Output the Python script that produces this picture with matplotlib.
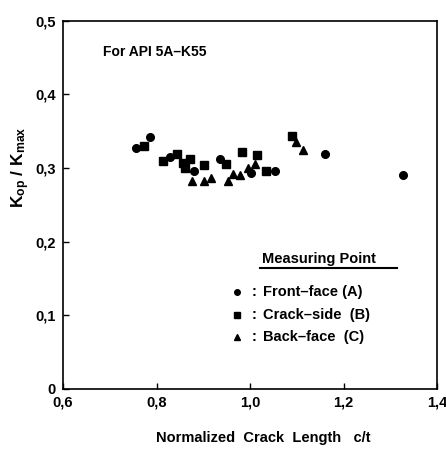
import matplotlib
matplotlib.use("Agg")
import matplotlib.pyplot as plt
from matplotlib.ticker import FixedLocator

plt.rcParams['font.family'] = ['Liberation Sans', 'DejaVu Sans']
plt.rcParams['font.weight'] = 'bold'
plt.rcParams['mathtext.fontset'] = 'custom'
plt.rcParams['mathtext.rm'] = 'Liberation Sans:bold'
plt.rcParams['mathtext.it'] = 'Liberation Sans:bold'

# Data
front_x = [0.756, 0.786, 0.829, 0.880, 0.935, 1.002, 1.053, 1.160, 1.328]
front_y = [0.327, 0.342, 0.315, 0.296, 0.312, 0.293, 0.296, 0.319, 0.290]
crack_x = [0.773, 0.813, 0.844, 0.856, 0.872, 0.861, 0.902, 0.948, 0.982, 1.016, 1.035, 1.090]
crack_y = [0.330, 0.309, 0.319, 0.307, 0.312, 0.300, 0.304, 0.306, 0.322, 0.318, 0.296, 0.344]
back_x = [0.877, 0.902, 0.917, 0.954, 0.964, 0.979, 0.995, 1.011, 1.098, 1.113]
back_y = [0.283, 0.282, 0.286, 0.282, 0.292, 0.291, 0.300, 0.306, 0.336, 0.325]

x_ticks = [0.6, 0.8, 1.0, 1.2, 1.4]
x_labels = ["0,6", "0,8", "1,0", "1,2", "1,4"]
y_ticks = [0, 0.1, 0.2, 0.3, 0.4, 0.5]
y_labels = ["0", "0,1", "0,2", "0,3", "0,4", "0,5"]

legend_labels = ["Front\u2013face (A)", "Crack\u2013side  (B)", "Back\u2013face  (C)"]

fig = plt.figure(figsize=(4.46, 4.53), dpi=100)
ax = fig.add_axes([63/446, 64/453, 374/446, 368.3/453])

ax.plot(front_x, front_y, 'o', color='black', ms=5.5, mec='black')
ax.plot(crack_x, crack_y, 's', color='black', ms=5.2, mec='black')
ax.plot(back_x, back_y, '^', color='black', ms=5.5, mec='black')

ax.set_xlim(0.6, 1.4)
ax.set_ylim(0, 0.5)
ax.xaxis.set_major_locator(FixedLocator(x_ticks))
ax.yaxis.set_major_locator(FixedLocator(y_ticks))
ax.set_xticklabels(x_labels, fontsize=10.5, fontweight='bold')
ax.set_yticklabels(y_labels, fontsize=10.5, fontweight='bold')
ax.tick_params(direction='in', length=4, width=1, pad=5)
for s in ax.spines.values():
    s.set_linewidth(1.2)

ax.text(0.686, 0.457, "For API 5A\u2013K55", fontsize=10, fontweight='bold', va='center')

# Legend drawn manually
fig.text(262/446, 1 - 259/453, "Measuring Point", fontsize=10.5, fontweight='bold', va='center', ha='left')
fig.add_artist(plt.Line2D([260/446, 397/446], [1 - 268/453, 1 - 268/453], color='black', lw=1.5))
row_y = [292, 315, 337]
mk = ['o', 's', '^']
for yy, m, lab in zip(row_y, mk, legend_labels):
    fig.add_artist(plt.Line2D([237/446], [1 - yy/453], marker=m, color='black', ms=4))
    fig.text(254/446, 1 - yy/453, ":", fontsize=10.5, fontweight='bold', va='center', ha='center')
    fig.text(263/446, 1 - yy/453, lab, fontsize=10.5, fontweight='bold', va='center', ha='left')

fig.text(21/446, 1 - 167/453, r"K$_{op}$ / K$_{max}$", rotation=90, fontsize=12.5,
         fontweight='bold', va='center', ha='center')
fig.text(263/446, 1 - 438/453, "Normalized  Crack  Length   c/t", fontsize=10.5,
         fontweight='bold', va='center', ha='center')

fig.savefig("out.png", dpi=100)
